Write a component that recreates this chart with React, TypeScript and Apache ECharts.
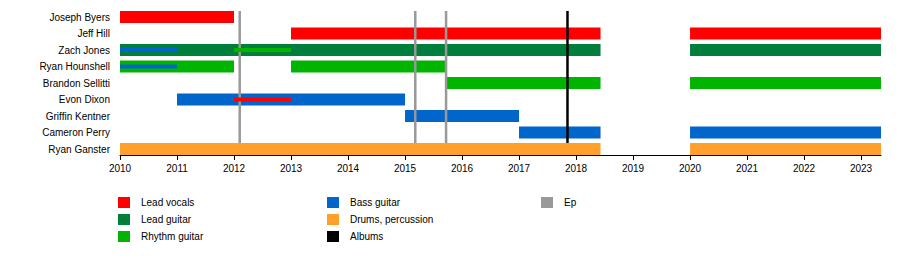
import React, { useEffect, useRef } from "react";
import * as echarts from "echarts";

const members = [
  "Joseph Byers",
  "Jeff Hill",
  "Zach Jones",
  "Ryan Hounshell",
  "Brandon Sellitti",
  "Evon Dixon",
  "Griffin Kentner",
  "Cameron Perry",
  "Ryan Ganster",
];

const years = [2010, 2011, 2012, 2013, 2014, 2015, 2016, 2017, 2018, 2019, 2020, 2021, 2022, 2023];
const START = 2010;
const END = 2023.35;

// [start, end, memberIndex]
const leadVocals = [
  [2010, 2012, 0],
  [2013, 2018.43, 1],
  [2020, 2023.35, 1],
];
const leadVocalsMinor = [[2012, 2013, 5]];
const leadGuitar = [
  [2010, 2018.43, 2],
  [2020, 2023.35, 2],
];
const rhythmGuitar = [
  [2010, 2012, 3],
  [2013, 2015.72, 3],
  [2015.72, 2018.43, 4],
  [2020, 2023.35, 4],
];
const rhythmGuitarMinor = [[2012, 2013, 2]];
const bassGuitar = [
  [2011, 2015, 5],
  [2015, 2017, 6],
  [2017, 2018.43, 7],
  [2020, 2023.35, 7],
];
const bassGuitarMinor = [
  [2010, 2011, 2],
  [2010, 2011, 3],
];
const drums = [
  [2010, 2018.43, 8],
  [2020, 2023.35, 8],
];
const eps = [2012.1, 2015.18, 2015.72];
const albums = [2017.85];

const COLORS = {
  lead: "#ff0000",
  leadGuitar: "#007f3c",
  rhythm: "#00b400",
  bass: "#0066cc",
  drums: "#ffa02d",
  albums: "#000000",
  ep: "#999999",
};

const FONT = "'Liberation Sans', Arial, sans-serif";
const BAR_H = 12;
const MINOR_H = 4;

const barRender = (h: number) => (params: any, api: any) => {
  const a = api.coord([api.value(0), api.value(2)]);
  const b = api.coord([api.value(1), api.value(2)]);
  return {
    type: "rect",
    shape: { x: a[0], y: a[1] - h / 2, width: b[0] - a[0], height: h },
    style: { fill: api.visual("color") },
  };
};

const lineRender = (params: any, api: any) => {
  const top = api.coord([api.value(0), 0]);
  const bottom = api.coord([api.value(0), members.length - 1]);
  return {
    type: "line",
    shape: { x1: top[0], y1: top[1] - BAR_H / 2, x2: bottom[0], y2: bottom[1] - BAR_H / 2 },
    style: { stroke: api.visual("color"), lineWidth: 2.5 },
  };
};

const barSeries = (name: string, data: number[][], color: string, h: number, z: number) => ({
  type: "custom",
  name,
  data,
  encode: { x: [0, 1], y: 2 },
  itemStyle: { color },
  renderItem: barRender(h),
  z,
});

const lineSeries = (name: string, data: number[], color: string) => ({
  type: "custom",
  name,
  data: data.map((d) => [d]),
  encode: { x: 0 },
  itemStyle: { color },
  renderItem: lineRender,
  z: 3,
});

const legendBase = {
  orient: "vertical",
  top: 197,
  itemWidth: 12,
  itemHeight: 11,
  itemGap: 6,
  padding: 0,
  icon: "rect",
  selectedMode: false,
  textStyle: { fontSize: 10, fontFamily: FONT, color: "#000", padding: [0, 0, 0, 6] },
};

export default function App() {
  const ref = useRef<HTMLDivElement>(null);
  useEffect(() => {
    if (!ref.current) return;
    const chart = echarts.init(ref.current, undefined, { renderer: "svg" });
    const halfRow = 6 / 16.5;
    chart.setOption({
      animation: false,
      backgroundColor: "#ffffff",
      grid: { left: 120, right: 19, top: 8.75, bottom: 119 },
      xAxis: {
        type: "value",
        min: START,
        max: END,
        axisLine: { onZero: false, lineStyle: { color: "#000", width: 1 } },
        axisTick: { show: true, length: 5, customValues: years, lineStyle: { color: "#000" } },
        axisLabel: {
          customValues: years,
          formatter: (v: number) => String(v),
          fontSize: 10,
          fontFamily: FONT,
          color: "#000",
          margin: 8,
        },
        splitLine: { show: false },
      },
      yAxis: {
        type: "value",
        inverse: true,
        min: -0.5,
        max: members.length - 1 + halfRow,
        axisLine: { show: false },
        axisTick: { show: false },
        splitLine: { show: false },
        axisLabel: {
          customValues: members.map((_, i) => i),
          formatter: (v: number) => members[Math.round(v)] ?? "",
          fontSize: 10,
          fontFamily: FONT,
          color: "#000",
          margin: 10,
        },
      },
      legend: [
        { ...legendBase, left: 118, data: ["Lead vocals", "Lead guitar", "Rhythm guitar"] },
        { ...legendBase, left: 327, data: ["Bass guitar", "Drums, percussion", "Albums"] },
        { ...legendBase, left: 541, data: ["Ep"] },
      ],
      series: [
        barSeries("Lead vocals", leadVocals, COLORS.lead, BAR_H, 2),
        barSeries("Lead guitar", leadGuitar, COLORS.leadGuitar, BAR_H, 2),
        barSeries("Rhythm guitar", rhythmGuitar, COLORS.rhythm, BAR_H, 2),
        barSeries("Bass guitar", bassGuitar, COLORS.bass, BAR_H, 2),
        barSeries("Drums, percussion", drums, COLORS.drums, BAR_H, 2),
        lineSeries("Albums", albums, COLORS.albums),
        lineSeries("Ep", eps, COLORS.ep),
        barSeries("Lead vocals", leadVocalsMinor, COLORS.lead, MINOR_H, 4),
        barSeries("Rhythm guitar", rhythmGuitarMinor, COLORS.rhythm, MINOR_H, 4),
        barSeries("Bass guitar", bassGuitarMinor, COLORS.bass, MINOR_H, 4),
      ],
    });
    return () => chart.dispose();
  }, []);
  return (
    <div
      ref={ref}
      style={{ position: "fixed", left: 0, top: 0, width: 900, height: 274, background: "#fff" }}
    />
  );
}
